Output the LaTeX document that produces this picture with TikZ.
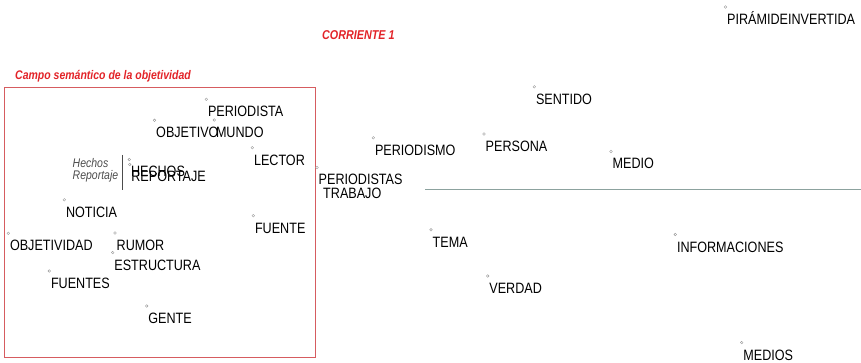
\documentclass[tikz,border=0pt]{standalone}
\usepackage{fontspec}
\setmainfont{Liberation Sans}[FakeStretch=0.84]
\usetikzlibrary{positioning}
\definecolor{titlered}{RGB}{226,35,40}
\definecolor{boxred}{RGB}{214,92,96}
\definecolor{axisgray}{RGB}{140,162,158}

\begin{document}
\begin{tikzpicture}[x=1pt, y=-1pt]
\tikzstyle{pt}=[draw=gray!80, fill=white, circle, inner sep=0pt, minimum size=2.6pt, line width=0.4pt]
\tikzstyle{word}=[anchor=base west, inner sep=0pt, font=\fontsize{15}{15}\selectfont]
\tikzstyle{note}=[anchor=base west, inner sep=0pt, text=black!70, font=\fontsize{12.5}{12.5}\selectfont\itshape]
\tikzstyle{title}=[anchor=base west, inner sep=0pt, text=titlered, font=\bfseries\itshape]
\useasboundingbox (0,0) rectangle (861,363);
% red frame and titles
\node[draw=boxred, line width=0.8pt, anchor=north west, inner sep=0pt, minimum width=311pt, minimum height=270pt] (campo) at (4,87.3) {};
\node[title, font=\fontsize{12.5}{12.5}\selectfont\bfseries\itshape] (campotitle) at (15,79.5) {Campo semántico de la objetividad};
\node[title, font=\fontsize{12.8}{12.8}\selectfont\bfseries\itshape] (corriente) at (322,39.3) {CORRIENTE 1};
% axis
\coordinate (axisleft) at (425,189.7);
\coordinate (axisright) at (861,189.7);
\draw[axisgray, line width=1.4pt] (axisleft) -- (axisright);
% points
\node[pt] (piramide) at (725.5,7) {};
\node[word] at ([shift={(1.5,17.5)}]piramide) {PIRÁMIDEINVERTIDA};
\node[pt] (sentido) at (534.3,86.8) {};
\node[word] at ([shift={(1.5,17.5)}]sentido) {SENTIDO};
\node[pt] (periodista) at (206.3,99.3) {};
\node[word] at ([shift={(1.5,17.5)}]periodista) {PERIODISTA};
\node[pt] (objetivo) at (154.5,120.3) {};
\node[word] at ([shift={(1.5,17.5)}]objetivo) {OBJETIVO};
\node[pt] (mundo) at (214.3,120) {};
\node[word] at ([shift={(1.5,17.5)}]mundo) {MUNDO};
\node[pt] (lector) at (252.3,147.7) {};
\node[word] at ([shift={(1.5,17.5)}]lector) {LECTOR};
\node[pt] (periodismo) at (373.3,137.8) {};
\node[word] at ([shift={(1.5,17.5)}]periodismo) {PERIODISMO};
\node[pt] (persona) at (484,134) {};
\node[word] at ([shift={(1.5,17.5)}]persona) {PERSONA};
\node[pt] (medio) at (611,151.5) {};
\node[word] at ([shift={(1.5,17.5)}]medio) {MEDIO};
\node[pt] (hechos) at (129.3,159.5) {};
\node[word] at ([shift={(1.5,17.5)}]hechos) {HECHOS};
\node[pt] (reportaje) at (129.7,164.5) {};
\node[word] at ([shift={(1.5,17.5)}]reportaje) {REPORTAJE};
\node[pt] (periodistas) at (317,167.5) {};
\node[word] at ([shift={(1.5,17.5)}]periodistas) {PERIODISTAS};
\node[word] (trabajo) at (323,198.3) {TRABAJO};
\node[pt] (noticia) at (64.3,199.8) {};
\node[word] at ([shift={(1.5,17.5)}]noticia) {NOTICIA};
\node[pt] (fuente) at (253.3,215.7) {};
\node[word] at ([shift={(1.5,17.5)}]fuente) {FUENTE};
\node[pt] (tema) at (431,229.8) {};
\node[word] at ([shift={(1.5,17.5)}]tema) {TEMA};
\node[pt] (informaciones) at (675.3,234.5) {};
\node[word] at ([shift={(1.5,17.5)}]informaciones) {INFORMACIONES};
\node[pt] (objetividad) at (8.3,233.3) {};
\node[word] at ([shift={(1.5,17.5)}]objetividad) {OBJETIVIDAD};
\node[pt] (rumor) at (115,233) {};
\node[word] at ([shift={(1.5,17.5)}]rumor) {RUMOR};
\node[pt] (estructura) at (112.7,252.6) {};
\node[word] at ([shift={(1.5,17.5)}]estructura) {ESTRUCTURA};
\node[pt] (fuentes) at (49.3,271) {};
\node[word] at ([shift={(1.5,17.5)}]fuentes) {FUENTES};
\node[pt] (verdad) at (487.7,276) {};
\node[word] at ([shift={(1.5,17.5)}]verdad) {VERDAD};
\node[pt] (gente) at (146.7,306) {};
\node[word] at ([shift={(1.5,17.5)}]gente) {GENTE};
\node[pt] (medios) at (741.7,342.6) {};
\node[word] at ([shift={(1.5,17.5)}]medios) {MEDIOS};
% legend of the merged pair
\node[note] (hechosnote) at (72.5,168) {Hechos};
\node[note] (reportajenote) at (72.5,180) {Reportaje};
\coordinate (bartop) at (122.7,155);
\coordinate (barbottom) at (122.7,190);
\draw[black!70, line width=0.7pt] (bartop) -- (barbottom);
\end{tikzpicture}
\end{document}
